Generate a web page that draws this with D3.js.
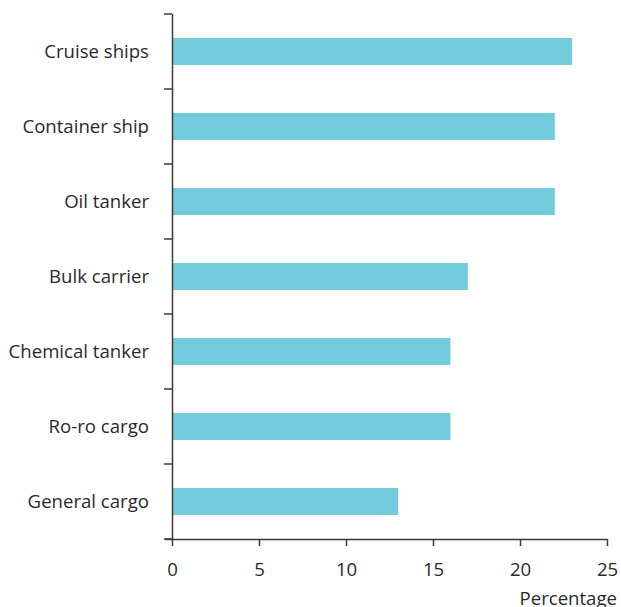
<!DOCTYPE html>
<html><head><meta charset="utf-8">
<script src="https://cdn.jsdelivr.net/npm/d3@7"></script>
<style>
body{margin:0;background:#fff;}
text{font-family:"Open Sans",sans-serif;}
</style></head>
<body><svg id="c" width="621" height="607"></svg>
<script>
const categories = ["Cruise ships","Container ship","Oil tanker","Bulk carrier","Chemical tanker","Ro-ro cargo","General cargo"];
const values = [23,22,22,17,16,16,13];
const xTicks = [0,5,10,15,20,25];
const xTitle = "Percentage";

(function(){
const svg = d3.select("#c");
const mLeft = 172, mRight = 607, mTop = 14, mBottom = 539;
const fs = 18.6;
const x = d3.scaleLinear().domain([0,25]).range([mLeft,mRight]);
const y = d3.scaleBand().domain(categories).range([mTop,mBottom]).paddingInner(0.64).paddingOuter(0.32);
const step = y.step();
const axisColor = "#3a3a3a";
const textColor = "#2a2a2a";

svg.selectAll("rect.bar").data(categories).join("rect")
  .attr("class","bar")
  .attr("x", x(0))
  .attr("y", d => y(d))
  .attr("width", (d,i) => x(values[i]) - x(0))
  .attr("height", y.bandwidth())
  .attr("fill", "#74cbdb");

const gx = svg.append("g").attr("transform",`translate(0,${mBottom})`)
  .call(d3.axisBottom(x).tickValues(xTicks).tickSize(7).tickPadding(17).tickSizeOuter(0));
gx.select(".domain").attr("stroke",axisColor).attr("stroke-width",1.5).attr("d",`M${mLeft-7},0.5H${mRight}`);
gx.selectAll(".tick line").attr("stroke",axisColor).attr("stroke-width",1.5);
gx.selectAll(".tick text").attr("font-size",fs).attr("fill",textColor).attr("font-family","'Open Sans',sans-serif");

const gy = svg.append("g").attr("transform",`translate(${mLeft},0)`)
  .call(d3.axisLeft(y).tickSize(0).tickPadding(23));
gy.select(".domain").attr("stroke",axisColor).attr("stroke-width",1.5).attr("d",`M0.5,${mTop}V${mBottom}`);
gy.selectAll(".tick text").attr("font-size",fs).attr("fill",textColor).attr("font-family","'Open Sans',sans-serif").attr("dy","0.36em");

const bounds = categories.map(c => y(c) - step*y.paddingInner()/2);
bounds.push(mBottom);
bounds[0] = mTop;
svg.append("g").selectAll("line").data(bounds).join("line")
  .attr("x1", mLeft-8).attr("x2", mLeft)
  .attr("y1", d => d).attr("y2", d => d)
  .attr("stroke", axisColor).attr("stroke-width",1.5);

svg.append("text").attr("x",617).attr("y",605).attr("text-anchor","end")
  .attr("font-size",fs).attr("fill",textColor).text(xTitle);
})();
</script></body></html>
